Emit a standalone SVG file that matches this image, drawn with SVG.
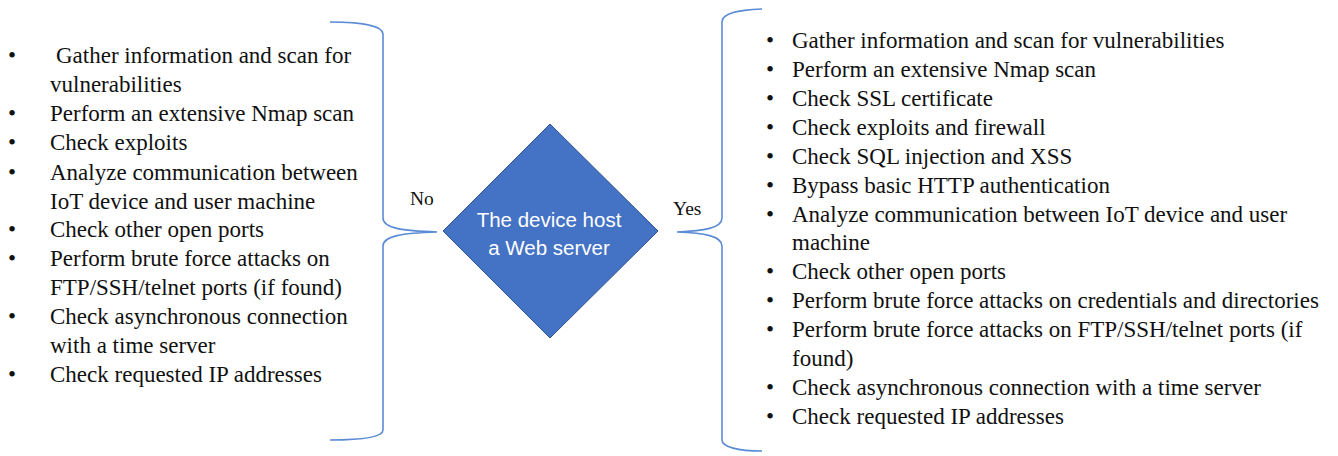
<svg xmlns="http://www.w3.org/2000/svg" width="1338" height="456" viewBox="0 0 1338 456">
<style>
text.t{font-family:"Liberation Serif","Times New Roman",serif;font-size:23px;fill:#111}
text.lbl{font-family:"Liberation Serif","Times New Roman",serif;font-size:19.5px;fill:#111}
text.dt{font-family:"Liberation Sans",Arial,sans-serif;font-size:20.5px;fill:#fff;text-anchor:middle}
.br{fill:none;stroke:#5B8BD6;stroke-width:1.6}
.dia{fill:#4472C4;stroke:#2F528F;stroke-width:1}
</style>
<rect width="1338" height="456" fill="#fff"/>
<g id="connectors">
<path class="br" d="M330,22 C362,22 383,26 383,34 L383,218 C383,228 402,231 437,232 C402,233 383,236 383,246 L383,430 C383,437 362,440 330,440"/>
<path class="br" d="M762,9 C738,10 722,13 722,22 L722,218 C722,228 704,231 677,232 C704,233 722,236 722,246 L722,440 C722,447 738,451 762,451"/>
</g>
<g id="decision">
<polygon class="dia" points="550,124 658,231 550,338 443,231"/>
<text class="dt" x="549" y="227">The device host</text>
<text class="dt" x="549" y="255">a Web server</text>
</g>
<g id="label-no"><text class="lbl" x="410" y="205">No</text></g>
<g id="label-yes"><text class="lbl" x="673" y="215">Yes</text></g>
<g id="no-list">
<text class="t" x="8" y="63">•</text><text class="t" x="56" y="63">Gather information and scan for</text>
<text class="t" x="50" y="92">vulnerabilities</text>
<text class="t" x="8" y="121">•</text><text class="t" x="50" y="121">Perform an extensive Nmap scan</text>
<text class="t" x="8" y="150">•</text><text class="t" x="50" y="150">Check exploits</text>
<text class="t" x="8" y="180">•</text><text class="t" x="50" y="180">Analyze communication between</text>
<text class="t" x="50" y="209">IoT device and user machine</text>
<text class="t" x="8" y="237">•</text><text class="t" x="50" y="237">Check other open ports</text>
<text class="t" x="8" y="266">•</text><text class="t" x="50" y="266">Perform brute force attacks on</text>
<text class="t" x="50" y="295">FTP/SSH/telnet ports (if found)</text>
<text class="t" x="8" y="324">•</text><text class="t" x="50" y="324">Check asynchronous connection</text>
<text class="t" x="50" y="353">with a time server</text>
<text class="t" x="8" y="382">•</text><text class="t" x="50" y="382">Check requested IP addresses</text>
</g>
<g id="yes-list">
<text class="t" x="766" y="48">•</text><text class="t" x="792" y="48">Gather information and scan for vulnerabilities</text>
<text class="t" x="766" y="77">•</text><text class="t" x="792" y="77">Perform an extensive Nmap scan</text>
<text class="t" x="766" y="106">•</text><text class="t" x="792" y="106">Check SSL certificate</text>
<text class="t" x="766" y="135">•</text><text class="t" x="792" y="135">Check exploits and firewall</text>
<text class="t" x="766" y="164">•</text><text class="t" x="792" y="164">Check SQL injection and XSS</text>
<text class="t" x="766" y="193">•</text><text class="t" x="792" y="193">Bypass basic HTTP authentication</text>
<text class="t" x="766" y="222">•</text><text class="t" x="792" y="222">Analyze communication between IoT device and user</text>
<text class="t" x="792" y="250">machine</text>
<text class="t" x="766" y="279">•</text><text class="t" x="792" y="279">Check other open ports</text>
<text class="t" x="766" y="308">•</text><text class="t" x="792" y="308">Perform brute force attacks on credentials and directories</text>
<text class="t" x="766" y="337">•</text><text class="t" x="792" y="337">Perform brute force attacks on FTP/SSH/telnet ports (if</text>
<text class="t" x="792" y="366">found)</text>
<text class="t" x="766" y="395">•</text><text class="t" x="792" y="395">Check asynchronous connection with a time server</text>
<text class="t" x="766" y="424">•</text><text class="t" x="792" y="424">Check requested IP addresses</text>
</g>
</svg>
